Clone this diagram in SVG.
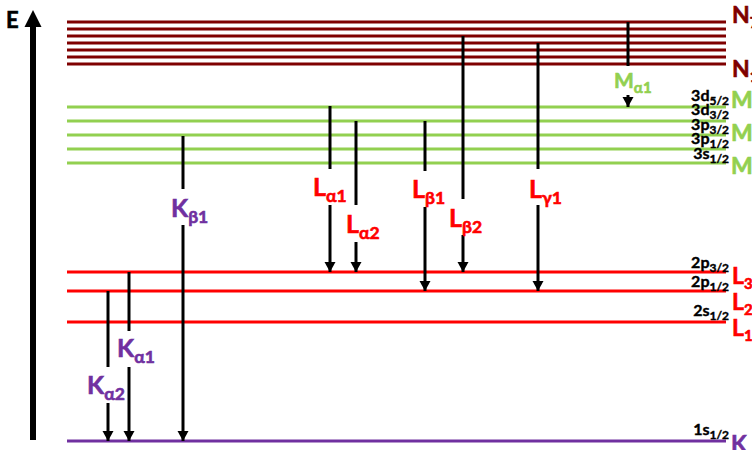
<svg xmlns="http://www.w3.org/2000/svg" width="752" height="450" viewBox="0 0 752 450">
  <defs>
    <marker id="head" markerUnits="userSpaceOnUse" markerWidth="12" markerHeight="12" viewBox="0 0 12 12" refX="6" refY="11" orient="0">
      <polygon points="0.5,1 11.5,1 6,11" fill="#000"/>
    </marker>
    <style>
      text { font-family: Lato, "Liberation Sans", sans-serif; font-weight: bold; stroke-width: 0.6; }
      .lvN { stroke: #7f0000; stroke-width: 3; }
      .lvM { stroke: #92d050; stroke-width: 3; }
      .lvL { stroke: #ff0000; stroke-width: 3; }
      .lvK { stroke: #7030a0; stroke-width: 3; }
      .seg { stroke: #000; stroke-width: 3; fill: none; }
      .arr { stroke: #000; stroke-width: 3; fill: none; marker-end: url(#head); }
      .sub { font-size: 16px; fill: #000; stroke: #000; stroke-width: 0.4; }
      .sub tspan { font-size: 12px; }
      .shell { font-size: 23px; }
      .shell tspan { font-size: 15px; }
      .line { font-size: 25px; }
      .line tspan { font-size: 17.5px; }
      .cN { fill: #7f0000; stroke: #7f0000; }
      .cM { fill: #92d050; stroke: #92d050; }
      .cL { fill: #ff0000; stroke: #ff0000; }
      .cK { fill: #7030a0; stroke: #7030a0; }
    </style>
  </defs>
  <rect width="752" height="450" fill="#fff"/>

  <!-- energy axis -->
  <g id="axis">
    <rect x="30" y="26" width="6" height="414" fill="#000"/>
    <polygon points="24.5,27 41.5,27 33,10" fill="#000"/>
    <text x="6" y="28" font-size="22" fill="#000" stroke="#000">E</text>
  </g>

  <!-- N shell -->
  <g id="shell-N">
    <line class="lvN" x1="67" y1="22" x2="726" y2="22"/>
    <line class="lvN" x1="67" y1="29" x2="726" y2="29"/>
    <line class="lvN" x1="67" y1="36" x2="726" y2="36"/>
    <line class="lvN" x1="67" y1="43" x2="726" y2="43"/>
    <line class="lvN" x1="67" y1="50" x2="726" y2="50"/>
    <line class="lvN" x1="67" y1="57" x2="726" y2="57"/>
    <line class="lvN" x1="67" y1="64" x2="726" y2="64"/>
    <text class="shell cN" x="732" y="23">N<tspan dy="5">7</tspan></text>
    <text class="shell cN" x="732" y="77">N<tspan dy="5">1</tspan></text>
  </g>

  <!-- M shell -->
  <g id="shell-M">
    <line class="lvM" x1="67" y1="107" x2="726" y2="107"/>
    <line class="lvM" x1="67" y1="121" x2="726" y2="121"/>
    <line class="lvM" x1="67" y1="135" x2="726" y2="135"/>
    <line class="lvM" x1="67" y1="149" x2="726" y2="149"/>
    <line class="lvM" x1="67" y1="163" x2="726" y2="163"/>
    <text class="sub" x="729" y="101" text-anchor="end">3d<tspan dy="4">5/2</tspan></text>
    <text class="sub" x="729" y="115" text-anchor="end">3d<tspan dy="4">3/2</tspan></text>
    <text class="sub" x="729" y="130" text-anchor="end">3p<tspan dy="4">3/2</tspan></text>
    <text class="sub" x="729" y="144" text-anchor="end">3p<tspan dy="4">1/2</tspan></text>
    <text class="sub" x="729" y="159" text-anchor="end">3s<tspan dy="4">1/2</tspan></text>
    <text class="shell cM" x="731" y="108">M</text>
    <text class="shell cM" x="731" y="141">M</text>
    <text class="shell cM" x="731" y="174">M</text>
  </g>

  <!-- L shell -->
  <g id="shell-L">
    <line class="lvL" x1="67" y1="272" x2="726" y2="272"/>
    <line class="lvL" x1="67" y1="291" x2="726" y2="291"/>
    <line class="lvL" x1="67" y1="322" x2="726" y2="322"/>
    <text class="sub" x="729" y="268" text-anchor="end">2p<tspan dy="4">3/2</tspan></text>
    <text class="sub" x="729" y="287" text-anchor="end">2p<tspan dy="4">1/2</tspan></text>
    <text class="sub" x="729" y="316" text-anchor="end">2s<tspan dy="4">1/2</tspan></text>
    <text class="shell cL" x="732" y="284">L<tspan dy="5">3</tspan></text>
    <text class="shell cL" x="732" y="310">L<tspan dy="5">2</tspan></text>
    <text class="shell cL" x="732" y="336">L<tspan dy="5">1</tspan></text>
  </g>

  <!-- K shell -->
  <g id="shell-K">
    <line class="lvK" x1="67" y1="441" x2="726" y2="441"/>
    <text class="sub" x="729" y="435" text-anchor="end">1s<tspan dy="4">1/2</tspan></text>
    <text class="shell cK" x="731" y="452" font-size="25">K</text>
  </g>

  <!-- transitions: upper segment, label gap, lower segment with arrowhead -->
  <g id="connectors">
    <!-- K alpha 2 -->
    <line class="seg" x1="108" y1="291" x2="108" y2="367"/>
    <line class="arr" x1="108" y1="403" x2="108" y2="441"/>
    <!-- K alpha 1 -->
    <line class="seg" x1="129" y1="272" x2="129" y2="331"/>
    <line class="arr" x1="129" y1="367" x2="129" y2="441"/>
    <!-- K beta 1 -->
    <line class="seg" x1="183" y1="136" x2="183" y2="189"/>
    <line class="arr" x1="183" y1="225" x2="183" y2="441"/>
    <!-- L alpha 1 -->
    <line class="seg" x1="330" y1="106" x2="330" y2="169"/>
    <line class="arr" x1="330" y1="205" x2="330" y2="272"/>
    <!-- L alpha 2 -->
    <line class="seg" x1="356" y1="121" x2="356" y2="205"/>
    <line class="arr" x1="356" y1="242" x2="356" y2="272"/>
    <!-- L beta 1 -->
    <line class="seg" x1="425" y1="121" x2="425" y2="171"/>
    <line class="arr" x1="425" y1="207" x2="425" y2="291"/>
    <!-- L beta 2 -->
    <line class="seg" x1="463" y1="36" x2="463" y2="199"/>
    <line class="arr" x1="463" y1="235" x2="463" y2="272"/>
    <!-- L gamma 1 -->
    <line class="seg" x1="538" y1="43" x2="538" y2="169"/>
    <line class="arr" x1="538" y1="205" x2="538" y2="291"/>
    <!-- M alpha 1 -->
    <line class="seg" x1="628" y1="22" x2="628" y2="66"/>
    <line class="arr" x1="628" y1="95" x2="628" y2="107"/>
  </g>

  <!-- transition labels -->
  <g id="labels">
    <text class="line cK" x="87" y="394">K<tspan dy="6">α2</tspan></text>
    <text class="line cK" x="117" y="357">K<tspan dy="6">α1</tspan></text>
    <text class="line cK" x="171" y="217">K<tspan dy="6">β1</tspan></text>
    <text class="line cL" x="313" y="196">L<tspan dy="6">α1</tspan></text>
    <text class="line cL" x="346" y="233">L<tspan dy="6">α2</tspan></text>
    <text class="line cL" x="412" y="198">L<tspan dy="6">β1</tspan></text>
    <text class="line cL" x="449" y="227">L<tspan dy="6">β2</tspan></text>
    <text class="line cL" x="529" y="198">L<tspan dy="6">γ1</tspan></text>
    <text class="cM" x="614" y="88" font-size="21">M<tspan dy="5" font-size="15">α1</tspan></text>
  </g>
</svg>
